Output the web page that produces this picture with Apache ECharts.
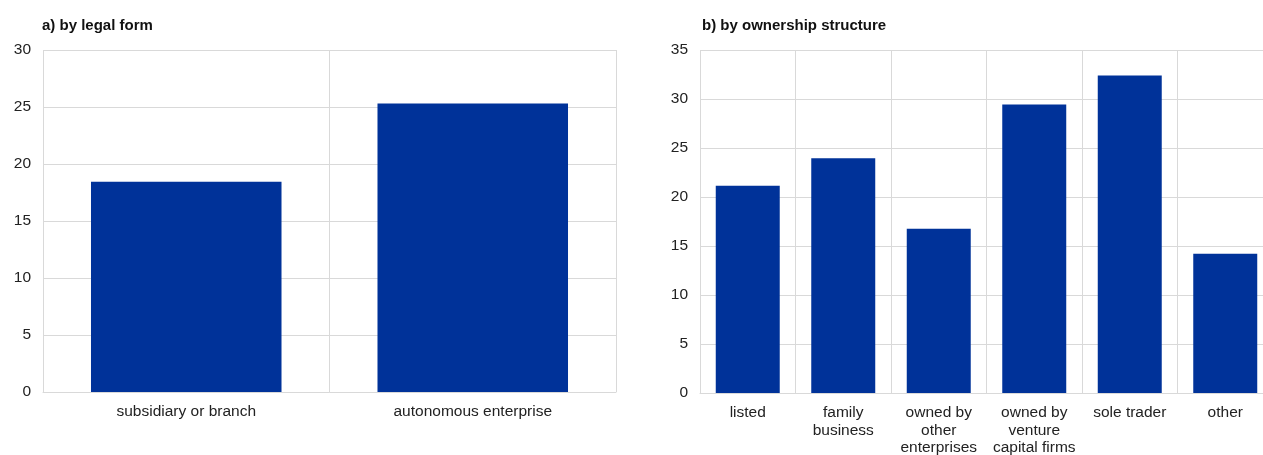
<!DOCTYPE html>
<html>
<head>
<meta charset="utf-8">
<script src="https://cdn.jsdelivr.net/npm/echarts@6/dist/echarts.min.js"></script>
<style>
  html, body { margin: 0; padding: 0; background: #fff; }
  #chart { width: 1263px; height: 455px; }
</style>
</head>
<body>
<div id="chart"></div>
<script>
// a) by legal form
const legalCats = ['subsidiary or branch', 'autonomous enterprise']
const legalVals = [18.45, 25.3]
// b) by ownership structure
const ownCats = ['listed', 'family\nbusiness', 'owned by\nother\nenterprises', 'owned by\nventure\ncapital firms', 'sole trader', 'other']
const ownVals = [21.15, 23.95, 16.75, 29.45, 32.4, 14.2]

const barColor = '#003299'
const gridColor = '#d9d9d9'
const fontFam = 'Liberation Sans, Arial, sans-serif'

const xAxisBase = {
  type: 'category',
  axisLine: { show: true, lineStyle: { color: gridColor } },
  axisTick: { show: false },
  splitLine: { show: true, lineStyle: { color: gridColor } },
  axisLabel: { color: '#222', fontSize: 15.5, fontFamily: fontFam, margin: 11, lineHeight: 17.5, interval: 0 }
}
const yAxisBase = {
  type: 'value',
  min: 0,
  interval: 5,
  axisLine: { show: false },
  axisTick: { show: false },
  splitLine: { show: true, lineStyle: { color: gridColor } },
  axisLabel: { color: '#222', fontSize: 15.5, fontFamily: fontFam, margin: 12 }
}

const chart = echarts.init(document.getElementById('chart'))
chart.setOption({
  animation: false,
  title: [
    { text: 'a) by legal form', left: 37, top: 13, textStyle: { fontSize: 15, fontWeight: 'bold', color: '#111', fontFamily: fontFam } },
    { text: 'b) by ownership structure', left: 697, top: 13, textStyle: { fontSize: 15, fontWeight: 'bold', color: '#111', fontFamily: fontFam } }
  ],
  grid: [
    { left: 43, width: 573, top: 50, bottom: 63, outerBoundsMode: 'none' },
    { left: 700, width: 573, top: 50, bottom: 62, outerBoundsMode: 'none' }
  ],
  xAxis: [
    Object.assign({}, xAxisBase, { gridIndex: 0, data: legalCats }),
    Object.assign({}, xAxisBase, { gridIndex: 1, data: ownCats })
  ],
  yAxis: [
    Object.assign({}, yAxisBase, { gridIndex: 0, max: 30 }),
    Object.assign({}, yAxisBase, { gridIndex: 1, max: 35 })
  ],
  series: [
    { type: 'bar', xAxisIndex: 0, yAxisIndex: 0, data: legalVals, barCategoryGap: '33.5%', itemStyle: { color: barColor } },
    { type: 'bar', xAxisIndex: 1, yAxisIndex: 1, data: ownVals, barCategoryGap: '33%', itemStyle: { color: barColor } }
  ]
})
</script>
</body>
</html>
